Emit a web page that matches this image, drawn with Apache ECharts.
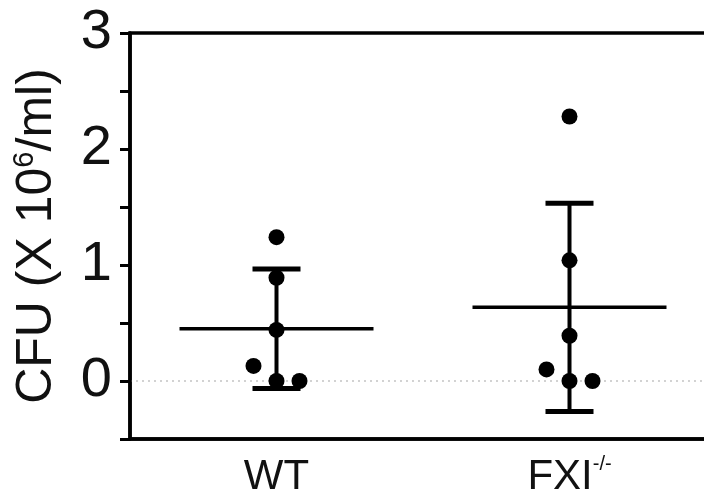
<!DOCTYPE html>
<html>
<head>
<meta charset="utf-8">
<script src="https://cdn.jsdelivr.net/npm/echarts@6/dist/echarts.min.js"></script>
<style>html,body{margin:0;padding:0;background:#fff;}#c{width:704px;height:498px;}</style>
</head>
<body>
<div id="c"></div>
<script>
var categories = ['WT', 'FXI'];
var wtValues = [1.24, 0.89, 0.44, 0.13, 0, 0];
var fxiValues = [2.28, 1.04, 0.39, 0.10, 0, 0];
var jitterPx = [0, 0, 0, -23, 0, 23];
var yTicks = [0, 1, 2, 3];
var baselineValue = 0;

function mean(a) { return a.reduce(function (s, v) { return s + v; }, 0) / a.length; }
function sd(a) {
  var m = mean(a);
  return Math.sqrt(a.reduce(function (s, v) { return s + (v - m) * (v - m); }, 0) / (a.length - 1));
}
var groups = [wtValues, fxiValues];
var summary = groups.map(function (g, i) { return [i, mean(g), sd(g)]; });
var points = [];
groups.forEach(function (g, i) {
  g.forEach(function (v, j) {
    points.push({ value: [i, v], symbolOffset: [jitterPx[j], 0] });
  });
});

var FONT = 'Liberation Sans';
var chart = echarts.init(document.getElementById('c'));
chart.setOption({
  animation: false,
  grid: { left: 130, top: 33, width: 586, height: 406, outerBoundsMode: 'none', containLabel: false,
          show: true, borderColor: '#000', borderWidth: 3.5, backgroundColor: 'transparent' },
  xAxis: {
    type: 'category',
    data: categories,
    boundaryGap: true,
    axisLine: { onZero: false, lineStyle: { color: '#000', width: 3.5 } },
    axisTick: { alignWithLabel: true, length: 9, lineStyle: { color: '#000', width: 3 } },
    axisLabel: {
      margin: 15,
      formatter: function (v) { return v === 'FXI' ? '{a|FXI}{b|-/-}' : '{a|' + v + '}'; },
      rich: {
        a: { fontFamily: FONT, fontSize: 42, color: '#111', lineHeight: 46 },
        b: { fontFamily: FONT, fontSize: 20, color: '#111', verticalAlign: 'top', lineHeight: 46 }
      }
    },
    splitLine: { show: false }
  },
  yAxis: {
    type: 'value',
    min: -0.5,
    max: 3,
    interval: 0.5,
    name: '{a|CFU (X 10}{s|6}{a|/ml)}',
    nameLocation: 'middle',
    nameRotate: 90,
    nameGap: 66,
    nameTextStyle: {
      rich: {
        a: { fontFamily: FONT, fontSize: 50, color: '#111', lineHeight: 54 },
        s: { fontFamily: FONT, fontSize: 29, color: '#111', verticalAlign: 'top', lineHeight: 54 }
      }
    },
    axisLine: { show: true, onZero: false, lineStyle: { color: '#000', width: 3.5 } },
    axisTick: { show: true, length: 10, lineStyle: { color: '#000', width: 3 } },
    axisLabel: {
      margin: 18,
      fontFamily: FONT,
      fontSize: 56,
      color: '#111',
      formatter: function (v) { return yTicks.indexOf(v) >= 0 ? String(v) : ''; }
    },
    splitLine: { show: false }
  },
  series: [
    {
      type: 'line',
      data: [],
      z: 0,
      markLine: {
        z: 0,
        silent: true,
        symbol: ['none', 'none'],
        label: { show: false },
        emphasis: { disabled: true },
        lineStyle: { color: '#c4c4c4', type: [2, 4], width: 1.5, opacity: 1 },
        data: [{ yAxis: baselineValue }]
      }
    },
    {
      type: 'custom',
      z: 2,
      data: summary,
      renderItem: function (params, api) {
        var x = api.value(0), m = api.value(1), s = api.value(2);
        var pm = api.coord([x, m]);
        var pt = api.coord([x, m + s]);
        var pb = api.coord([x, m - s]);
        var st = { stroke: '#000', lineWidth: 3.5, fill: null };
        return {
          type: 'group',
          children: [
            { type: 'line', shape: { x1: pm[0] - 97, y1: pm[1], x2: pm[0] + 97, y2: pm[1] }, style: st },
            { type: 'line', shape: { x1: pt[0], y1: pt[1], x2: pb[0], y2: pb[1] }, style: { stroke: '#000', lineWidth: 4 } },
            { type: 'line', shape: { x1: pt[0] - 24, y1: pt[1], x2: pt[0] + 24, y2: pt[1] }, style: { stroke: '#000', lineWidth: 5 } },
            { type: 'line', shape: { x1: pb[0] - 24, y1: pb[1], x2: pb[0] + 24, y2: pb[1] }, style: { stroke: '#000', lineWidth: 5 } }
          ]
        };
      }
    },
    {
      type: 'scatter',
      z: 10,
      symbol: 'circle',
      symbolSize: 16,
      itemStyle: { color: '#000', opacity: 1 },
      data: points
    }
  ]
});
</script>
</body>
</html>
